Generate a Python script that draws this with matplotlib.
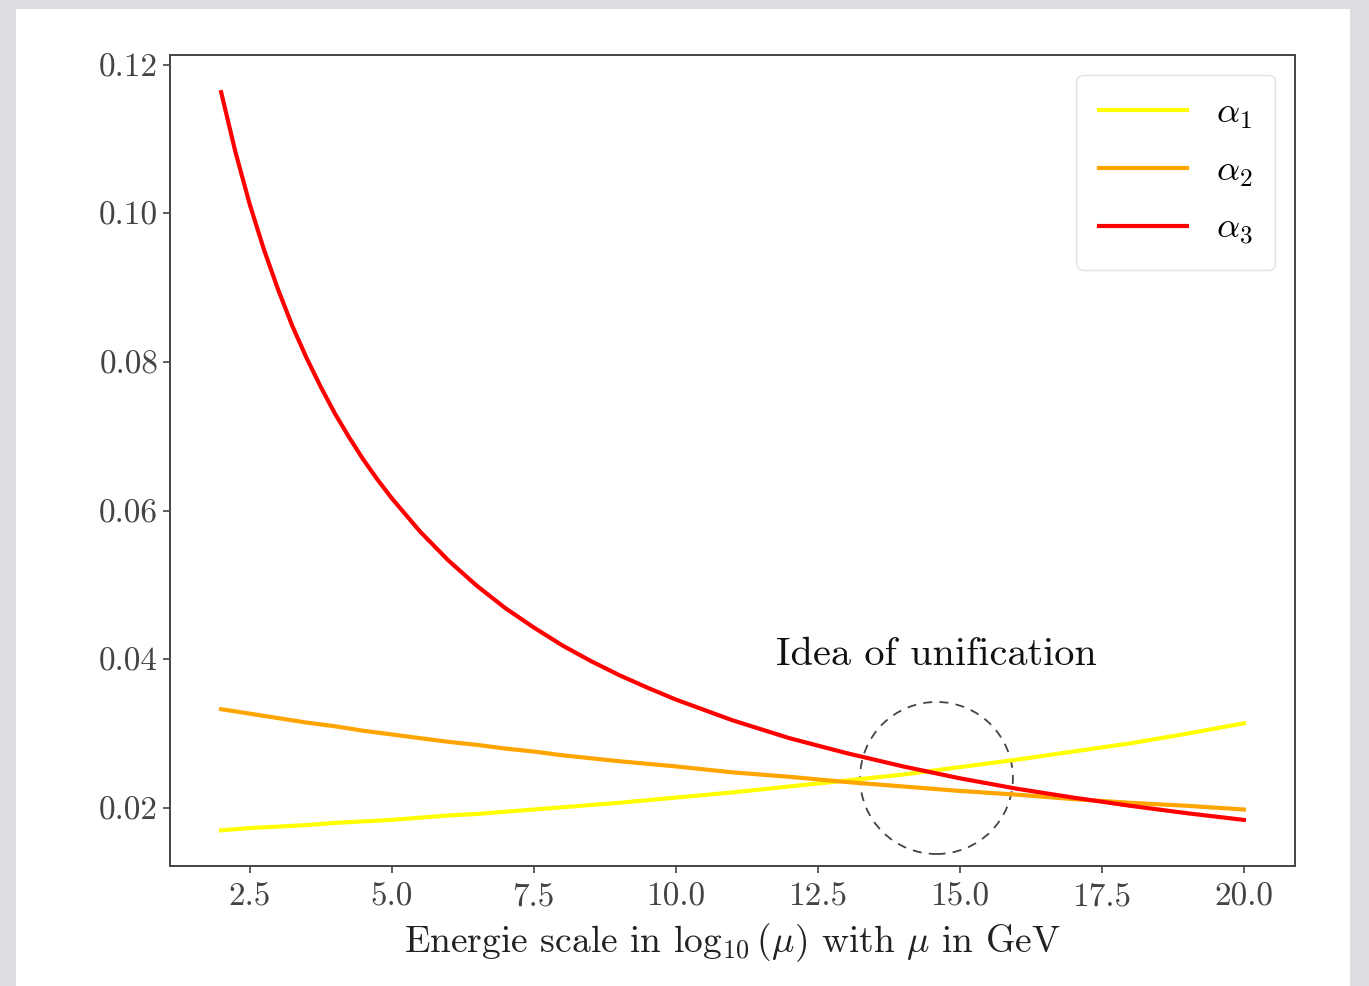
import numpy as np
import matplotlib
matplotlib.use("Agg")
import matplotlib.pyplot as plt
from matplotlib.patches import Ellipse, Rectangle

plt.rcParams['font.family'] = 'serif'
plt.rcParams['font.serif'] = ['cmr10', 'DejaVu Serif']
plt.rcParams['mathtext.fontset'] = 'cm'
plt.rcParams['axes.formatter.use_mathtext'] = True

# energy scale log10(mu), mu in GeV
log_mu = [2, 2.5, 3, 3.5, 4, 4.5, 5, 5.5, 6, 6.5, 7, 7.5, 8,
          9, 10, 11, 12, 13, 14, 15, 16, 17, 18, 19, 20]

alpha_1 = [0.0170, 0.0173, 0.0175, 0.0177, 0.0180, 0.0182, 0.0184, 0.0187, 0.0190,
           0.0192, 0.0195, 0.0198, 0.0201, 0.0207, 0.0214, 0.0221, 0.0229, 0.0237,
           0.0245, 0.0255, 0.0265, 0.0276, 0.0287, 0.0300, 0.0314]
alpha_2 = [0.0333, 0.0327, 0.0321, 0.0315, 0.0310, 0.0304, 0.0299, 0.0294, 0.0289,
           0.0285, 0.0280, 0.0276, 0.0271, 0.0263, 0.0256, 0.0248, 0.0242, 0.0235,
           0.0229, 0.0223, 0.0218, 0.0212, 0.0207, 0.0203, 0.0198]

# alpha_3 read more densely where it bends
log_mu_3 = [2, 2.25, 2.5, 2.75, 3, 3.25, 3.5, 3.75, 4, 4.25, 4.5, 4.75, 5, 5.5, 6,
            6.5, 7, 7.5, 8, 8.5, 9, 9.5, 10, 11, 12, 13, 14, 15, 16, 17, 18, 19, 20]
alpha_3 = [0.1163, 0.1083, 0.1013, 0.0952, 0.0898, 0.0849, 0.0806, 0.0767, 0.0731,
           0.0699, 0.0669, 0.0642, 0.0617, 0.0572, 0.0533, 0.0499, 0.0469, 0.0443,
           0.0419, 0.0398, 0.0379, 0.0362, 0.0346, 0.0318, 0.0294, 0.0274, 0.0256,
           0.0240, 0.0226, 0.0214, 0.0203, 0.0193, 0.0184]

# unification region
circle_center = (14.59, 0.02404)
circle_w, circle_h = 2.69, 0.02046

fig = plt.figure(figsize=(13.69, 9.86), dpi=100, facecolor='#dcdde0')
fig.patches.append(Rectangle((16/1369, 0), (1350-16)/1369, (986-9)/986,
                             transform=fig.transFigure, facecolor='white',
                             edgecolor='none', zorder=-5))

ax = fig.add_axes([170/1369, 120/986, (1295-170)/1369, (866-55)/986])

ax.plot(log_mu, alpha_1, color='yellow', lw=3, label=r'$\alpha_1$')
ax.plot(log_mu, alpha_2, color='orange', lw=3, label=r'$\alpha_2$')
ax.plot(log_mu_3, alpha_3, color='red', lw=3, label=r'$\alpha_3$')

ax.add_patch(Ellipse(circle_center, circle_w, circle_h, fill=False,
                     ls=(0, (5, 4)), color='#444444', lw=1.3))
ax.text(14.59, 0.0406, 'Idea of unification', fontsize=29,
        ha='center', va='center', color='#111111')

ax.set_xlim(1.1, 20.9)
ax.set_ylim(0.0122, 0.1213)
ax.set_xticks([2.5, 5.0, 7.5, 10.0, 12.5, 15.0, 17.5, 20.0])
ax.set_yticks([0.02, 0.04, 0.06, 0.08, 0.10, 0.12])
ax.set_xticklabels(['2.5', '5.0', '7.5', '10.0', '12.5', '15.0', '17.5', '20.0'])
ax.set_yticklabels(['0.02', '0.04', '0.06', '0.08', '0.10', '0.12'])
ax.tick_params(labelsize=24, length=5, width=1.2, colors='#444444', labelcolor='#444444')
ax.tick_params(axis='x', pad=7)
for s in ax.spines.values():
    s.set_color('#444444')
    s.set_linewidth(1.4)

ax.set_xlabel(r'Energie scale in $\log_{10}(\mu)$ with $\mu$ in GeV', fontsize=27,
              color='#222222', labelpad=7)

ax.legend(loc='upper right', fontsize=26, handlelength=2.45, labelspacing=0.68,
          borderpad=0.62, handletextpad=0.8, fancybox=True, framealpha=0.8,
          edgecolor='#dddddd', borderaxespad=0.55)

plt.savefig('out.png', dpi=100, facecolor=fig.get_facecolor())
